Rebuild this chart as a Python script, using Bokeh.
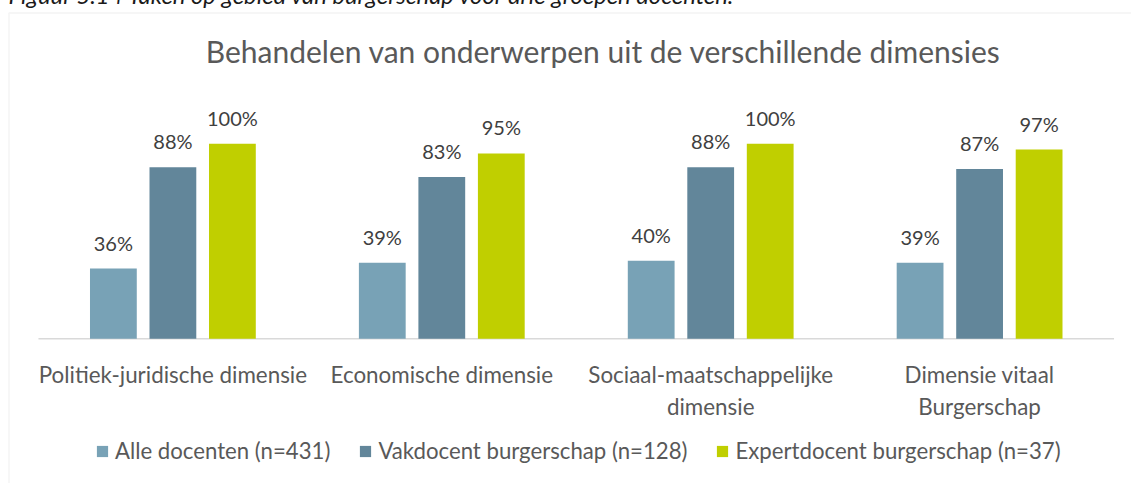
from bokeh.plotting import figure
from bokeh.models import (ColumnDataSource, Range1d, Label, Legend,
                          LegendItem, BoxAnnotation)
from bokeh.core.properties import value
from bokeh.embed import file_html
from bokeh.resources import INLINE

# ---------------- data ----------------
caption = "Figuur 5.14 Taken op gebied van burgerschap voor drie groepen docenten."
chart_title = "Behandelen van onderwerpen uit de verschillende dimensies"
categories = ["Politiek-juridische dimensie", "Economische dimensie",
              "Sociaal-maatschappelijke\ndimensie", "Dimensie vitaal\nBurgerschap"]
series_names = ["Alle docenten (n=431)", "Vakdocent burgerschap (n=128)",
                "Expertdocent burgerschap (n=37)"]
alle_docenten = [36, 39, 40, 39]
vakdocent = [88, 83, 88, 87]
expertdocent = [100, 95, 100, 97]

# ---------------- style ----------------
colors = ["#78A2B6", "#62869A", "#C0CF00"]
FONT = "Lato"
TEXT = "#595959"
LABEL = "#404040"
W, H = 1131, 503          # canvas; page y = canvas y - 20

series_values = [alle_docenten, vakdocent, expertdocent]
offsets = [-0.2213, 0.0, 0.2213]
bar_width = 0.174

idx = list(range(len(categories)))
data = {"x": idx, "cat": categories, "zero": [0] * len(categories)}
for i, vals in enumerate(series_values):
    data[f"x{i}"] = [k + offsets[i] for k in idx]
    data[f"v{i}"] = vals
    data[f"l{i}"] = [f"{v}%" for v in vals]
source = ColumnDataSource(data)

p = figure(x_range=Range1d(-0.6411, 3.5649), y_range=Range1d(-74.2, 183.7),
           width=W, height=H, output_backend="svg",
           toolbar_location=None, tools="", title=None,
           min_border_left=0, min_border_right=0,
           min_border_top=0, min_border_bottom=0)
p.margin = (-20, 0, 0, 0)
p.outline_line_color = None
p.xgrid.visible = False
p.ygrid.visible = False
p.xaxis.visible = False
p.yaxis.visible = False
p.background_fill_color = "white"
p.border_fill_color = "white"

# category axis baseline
p.segment(x0=[idx[0] - 0.5], x1=[idx[-1] + 0.5], y0=[0], y1=[0],
          line_color="#D9D9D9", line_width=1.5)

renderers = []
for i in range(3):
    r = p.vbar(x=f"x{i}", top=f"v{i}", width=bar_width, source=source,
               fill_color=colors[i], line_color=None)
    renderers.append(r)
    p.text(x=f"x{i}", y=f"v{i}", text=f"l{i}", source=source,
           text_align="center", text_baseline="alphabetic",
           y_offset=-26, text_font=value(FONT), text_font_size="20px",
           text_color=LABEL)

# category labels
p.text(x="x", y="zero", text="cat", source=source, text_align="center",
       text_baseline="top", y_offset=22, text_font=value(FONT),
       text_font_size="22.4px", text_color=TEXT, text_line_height=1.18)

legend = Legend(items=[LegendItem(label=n, renderers=[r])
                       for n, r in zip(series_names, renderers)],
                orientation="horizontal", location=(95, 19),
                glyph_width=14, glyph_height=14, label_standoff=6, spacing=28,
                padding=0, margin=0, border_line_color=None,
                background_fill_alpha=0, label_text_font=FONT,
                label_text_font_size="22.2px", label_text_color=TEXT)
p.add_layout(legend)

p.add_layout(Label(x=603, y=432.5, x_units="screen", y_units="screen",
                   text=chart_title, text_align="center",
                   text_baseline="alphabetic", text_font=FONT,
                   text_font_size="30px", text_color=TEXT))
p.add_layout(Label(x=8, y=488.7, x_units="screen", y_units="screen",
                   text=caption, text_align="left", text_baseline="alphabetic",
                   text_font=FONT, text_font_style="italic",
                   text_font_size="23.8px", text_color="#1A1A1A"))
p.add_layout(BoxAnnotation(left=8.5, right=3000, top=470.5, bottom=-3000,
                           left_units="screen", right_units="screen",
                           top_units="screen", bottom_units="screen",
                           fill_alpha=0, line_color="#D9D9D9", line_width=1.5))

open("out.html", "w").write(file_html(p, INLINE))
